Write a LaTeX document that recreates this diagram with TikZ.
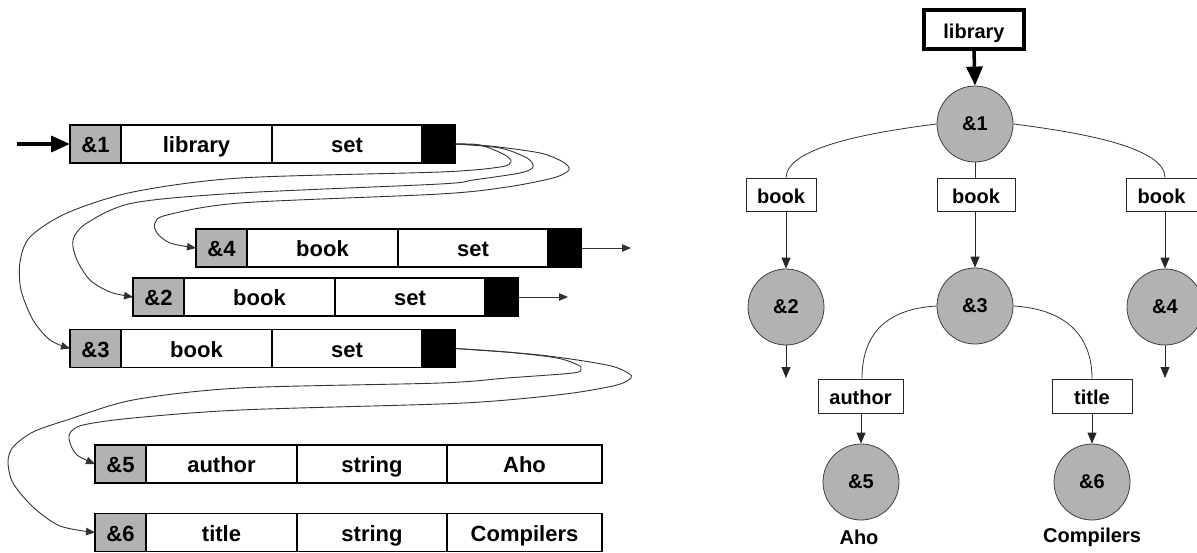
\documentclass[tikz,border=0pt]{standalone}
\usepackage{fontspec}
\setmainfont{Liberation Sans}
\usetikzlibrary{arrows.meta,positioning}
\definecolor{cellgray}{RGB}{178,178,178}
\tikzset{
  x=1pt, y=-1pt,
  rec/.style={draw=black, line width=1.2pt, minimum height=38pt, inner sep=0pt,
    outer sep=0pt, anchor=west, text height=17pt, text depth=0pt,
    font=\bfseries\fontsize{22}{24}\selectfont},
  tagcell/.style={rec, fill=cellgray, minimum width=51pt},
  fieldcell/.style={rec, fill=white, minimum width=#1},
  ptrcell/.style={rec, fill=black, minimum width=33pt},
  link/.style={draw=black!80, line width=0.9pt, -{Triangle[length=9pt,width=7.5pt]}},
  bigarrow/.style={line width=3.5pt, -{Triangle[length=19pt,width=16pt]}},
  obj/.style={circle, minimum size=76pt, inner sep=0pt, fill=cellgray, draw=black!75,
    line width=0.8pt, font=\bfseries\fontsize{20}{22}\selectfont},
  tag/.style={draw=black!85, fill=white, line width=0.9pt, minimum height=33pt,
    inner sep=0pt, text height=17pt, text depth=0pt,
    font=\bfseries\fontsize{20}{22}\selectfont},
  tlink/.style={draw=black!85, line width=0.9pt, -{Triangle[length=11pt,width=9pt]}},
  arc/.style={draw=black!80, line width=0.8pt},
  plain/.style={font=\bfseries\fontsize{20}{22}\selectfont, inner sep=0pt}
}
\begin{document}
\begin{tikzpicture}
\useasboundingbox (0,0) rectangle (1197,552);

% ---------- object records ----------
% &1
\node[tagcell] (a1) at (70,144) {\&1};
\node[fieldcell=151pt, right=0pt of a1] (b1) {library};
\node[fieldcell=150pt, right=0pt of b1] (c1) {set};
\node[ptrcell, right=0pt of c1] (p1) {};
% &4
\node[tagcell] (a4) at (196,248) {\&4};
\node[fieldcell=151pt, right=0pt of a4] (b4) {book};
\node[fieldcell=150pt, right=0pt of b4] (c4) {set};
\node[ptrcell, right=0pt of c4] (p4) {};
% &2
\node[tagcell] (a2) at (133,297) {\&2};
\node[fieldcell=151pt, right=0pt of a2] (b2) {book};
\node[fieldcell=150pt, right=0pt of b2] (c2) {set};
\node[ptrcell, right=0pt of c2] (p2) {};
% &3
\node[tagcell] (a3) at (70,348.5) {\&3};
\node[fieldcell=151pt, right=0pt of a3] (b3) {book};
\node[fieldcell=150pt, right=0pt of b3] (c3) {set};
\node[ptrcell, right=0pt of c3] (p3) {};
% &5
\node[tagcell] (a5) at (95,464) {\&5};
\node[fieldcell=151pt, right=0pt of a5] (b5) {author};
\node[fieldcell=150pt, right=0pt of b5] (c5) {string};
\node[fieldcell=155pt, right=0pt of c5] (v5) {Aho};
% &6
\node[tagcell] (a6) at (95,532.5) {\&6};
\node[fieldcell=151pt, right=0pt of a6] (b6) {title};
\node[fieldcell=150pt, right=0pt of b6] (c6) {string};
\node[fieldcell=155pt, right=0pt of c6] (v6) {Compilers};

% entry arrow
\coordinate (entry) at (17,144);
\draw[bigarrow] (entry) -- (a1.west);

% dangling set pointers
\coordinate (e4) at (631,248);
\coordinate (e2) at (568,297);
\draw[link] (p4.east) -- (e4);
\draw[link] (p2.east) -- (e2);

% set of &1 -> &4, &2, &3
\draw[link] plot[smooth, tension=0.5] coordinates {(p1.east) (490,146) (540,153) (563,162)
  (569,170) (553,178) (507,187) (440,194) (240,203) (167,215) (155,223) (157,233)
  (170,243) (a4.west)};
\draw[link] plot[smooth, tension=0.5] coordinates {(p1.east) (500,148) (527,158) (533,167)
  (520,173) (473,180) (440,184) (240,193) (133,203) (87,223) (73,240) (77,260)
  (90,280) (110,292) (a2.west)};
\draw[link] plot[smooth, tension=0.5] coordinates {(p1.east) (480,145) (505,155) (511,162)
  (500,167) (440,172) (240,178) (133,192) (67,213) (30,237) (20,262) (21,290)
  (33,320) (50,340) (a3.west)};

% set of &3 -> &5, &6
\draw[link] plot[smooth, tension=0.5] coordinates {(p3.east) (540,355) (607,365) (628,373)
  (631,378) (617,385) (573,393) (507,400) (440,404) (240,410) (133,418) (83,425)
  (70,433) (70,443) (77,455) (a5.west)};
\draw[link] plot[smooth, tension=0.5] coordinates {(p3.east) (507,352) (557,358) (578,365)
  (581,369) (573,373) (507,378) (440,383) (240,388) (133,400) (67,420) (33,432)
  (13,447) (8,462) (13,483) (33,507) (60,526) (a6.west)};

% ---------- tree ----------
\node[tag, line width=3.5pt, draw=black, minimum width=100pt, minimum height=39pt] (lib) at (974,29.5) {library};
\node[obj] (o1) at (975,124) {\&1};
\draw[bigarrow] (lib.south) -- (o1.north);

\node[tag, minimum width=70pt] (k1) at (781,194.5) {book};
\node[tag, minimum width=78pt] (k2) at (976,194.5) {book};
\node[tag, minimum width=71pt] (k3) at (1161.5,194.5) {book};

\node[obj] (o2) at (786,307) {\&2};
\node[obj] (o3) at (975,306) {\&3};
\node[obj] (o4) at (1165,307) {\&4};

\draw[arc] (o1.west) .. controls (865,133) and (787,148) .. (k1.north -| o2.center);
\draw[arc] (o1.east) .. controls (1085,133) and (1165,148) .. (k3.north -| o4.center);
\draw[arc] (o1.south) -- (k2.north -| o1.south);

\draw[tlink] (k1.south -| o2.center) -- (o2.north);
\draw[tlink] (k2.south -| o3.center) -- (o3.north);
\draw[tlink] (k3.south -| o4.center) -- (o4.north);

\coordinate (d2) at (786,378);
\coordinate (d4) at (1165,378);
\draw[tlink] (o2.south) -- (d2);
\draw[tlink] (o4.south) -- (d4);

\node[tag, minimum width=85pt, minimum height=34pt] (ka) at (860.5,396) {author};
\node[tag, minimum width=80pt, minimum height=34pt] (kt) at (1092,396) {title};

\draw[arc] (o3.west) .. controls (885,309) and (862,335) .. (ka.north -| 862,0);
\draw[arc] (o3.east) .. controls (1065,309) and (1092,335) .. (kt.north);

\node[obj] (o5) at (861,482) {\&5};
\node[obj] (o6) at (1092,482) {\&6};
\draw[tlink] (ka.south -| o5.center) -- (o5.north);
\draw[tlink] (kt.south) -- (o6.north);

\node[plain] (s5) at (859,537) {Aho};
\node[plain] (s6) at (1092,537) {Compilers};
\end{tikzpicture}
\end{document}
